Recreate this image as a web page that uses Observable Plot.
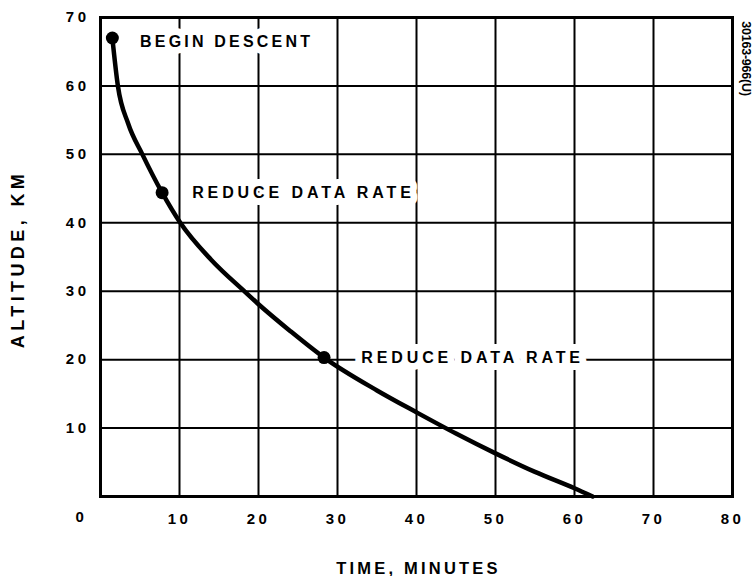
<!DOCTYPE html>
<html>
<head>
<meta charset="utf-8">
<script src="https://cdn.jsdelivr.net/npm/d3@7"></script>
<script src="https://cdn.jsdelivr.net/npm/@observablehq/plot@0.6"></script>
<style>
  html, body { margin: 0; padding: 0; background: #fff; }
  svg { display: block; }
</style>
</head>
<body>
<div id="chart"></div>
<script>
// Descent profile (time in minutes, altitude in km)
const timeMin = [1.5, 2.2, 3.5, 5.3, 7.8, 10.1, 14.0, 18.2, 20.0, 24.0, 28.3, 35.0, 40.0, 45.0, 50.0, 55.0, 60.0, 62.3];
const altKm   = [67.0, 60.0, 54.5, 50.0, 44.4, 40.0, 34.6, 30.0, 28.1, 24.2, 20.3, 15.5, 12.3, 9.2, 6.3, 3.6, 1.2, 0];

// Event markers
const eventTime = [1.5, 7.8, 28.3];
const eventAlt  = [67.0, 44.4, 20.3];

// Annotations
const noteText = ["BEGIN DESCENT", "REDUCE DATA RATE", "REDUCE DATA RATE"];
const noteTime = [5.0, 11.6, 33.0];
const noteAlt  = [66.4, 44.4, 20.2];

// Ticks
const xTicks = [10, 20, 30, 40, 50, 60, 70, 80];
const yTicks = [10, 20, 30, 40, 50, 60, 70];
const xGrid = [10, 20, 30, 40, 50, 60, 70];
const yGrid = [10, 20, 30, 40, 50, 60];

// Titles
const yTitle = "ALTITUDE, KM";
const xTitle = "TIME, MINUTES";
const codeLabel = "30163-966(U)";

const curve = timeMin.map((t, i) => ({t, a: altKm[i]}));
const events = eventTime.map((t, i) => ({t, a: eventAlt[i]}));
const notes = noteText.map((s, i) => ({s, t: noteTime[i], a: noteAlt[i]}));

const font = "'Liberation Sans', Arial, sans-serif";

const chart = Plot.plot({
  width: 754,
  height: 576,
  marginLeft: 100,
  marginRight: 22,
  marginTop: 17,
  marginBottom: 80,
  style: {fontFamily: font, fontSize: "15px", fontWeight: "bold", background: "#fff", color: "#000", letterSpacing: "3.5px"},
  x: {domain: [0, 80], ticks: xTicks, tickSize: 0, tickPadding: 17, label: null},
  y: {domain: [0, 70], ticks: yTicks, tickSize: 0, tickPadding: 11, label: null},
  marks: [
    Plot.ruleX(xGrid, {stroke: "#000", strokeWidth: 2}),
    Plot.ruleY(yGrid, {stroke: "#000", strokeWidth: 2}),
    Plot.frame({stroke: "#000", strokeWidth: 3}),
    Plot.text(notes, {x: "t", y: "a", text: "s", textAnchor: "start", fill: "#000", stroke: "#fff", strokeWidth: 14, fontSize: 16, fontWeight: "bold"}),
    Plot.line(curve, {x: "t", y: "a", curve: "monotone-x", stroke: "#000", strokeWidth: 4.5}),
    Plot.dot(events, {x: "t", y: "a", r: 6.5, fill: "#000"}),
    Plot.text([0], {x: 0, y: 0, text: () => "0", dx: -19, dy: 21, fontSize: 15, fontWeight: "bold"}),
    Plot.text([yTitle], {frameAnchor: "left", dx: -82, dy: 2, rotate: -90, textAnchor: "middle", lineAnchor: "middle", text: d => d, fontSize: 18, fontWeight: "bold"}),
    Plot.text([xTitle], {frameAnchor: "bottom", dx: 2, dy: 72, textAnchor: "middle", lineAnchor: "middle", text: d => d, fontSize: 16.5, fontWeight: "bold"}),
    Plot.text([codeLabel], {frameAnchor: "top-right", dx: 13.5, dy: 41, rotate: 90, textAnchor: "middle", lineAnchor: "middle", text: d => d, fontSize: 12.5, fontWeight: "bold"})
  ]
});

// letter spacing per text
const spacing = new Map([["BEGIN DESCENT", "3.2px"], ["REDUCE DATA RATE", "3.9px"], [yTitle, "4.4px"], [xTitle, "3.2px"], [codeLabel, "-0.2px"]]);
d3.select(chart).selectAll("text").each(function() {
  const s = spacing.get(this.textContent);
  if (s !== undefined) this.style.letterSpacing = s;
});

document.getElementById("chart").appendChild(chart);
</script>
</body>
</html>
